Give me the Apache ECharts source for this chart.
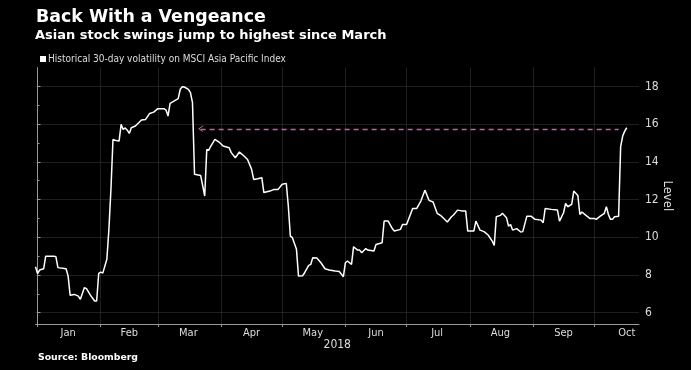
<!DOCTYPE html>
<html>
<head>
<meta charset="utf-8">
<script src="https://cdn.jsdelivr.net/npm/echarts@6/dist/echarts.min.js"></script>
<style>
html,body{margin:0;padding:0;background:#000;}
#chart{width:691px;height:370px;}
</style>
</head>
<body>
<div id="chart"></div>
<script>
// Day offsets from 2018-01-01 (calendar days)
const days = [-1,0,1,3,4,8,9,10,14,15,16,18,20,21,23,24,26,28,29,30,31,32,34,35,36,37,38,40,41,42,43,44,45,46,48,51,53,55,57,59,62,63,64,65,69,70,71,72,74,75,76,77,80,82,83,84,85,87,89,91,94,95,97,99,101,103,105,106,108,110,111,114,116,118,120,122,123,124,125,127,128,130,131,133,134,135,137,139,141,143,146,148,150,151,152,154,155,157,158,159,161,162,165,166,169,170,172,174,175,178,179,181,184,186,188,190,192,194,196,198,201,203,204,206,208,210,211,214,215,217,219,221,223,224,225,227,228,230,231,232,233,235,237,238,240,242,244,247,248,249,252,255,256,258,259,260,262,263,265,266,267,269,271,273,274,276,278,279,280,281,282,283,285,286,287,288,289];
// Historical 30-day volatility level
const levels = [8.44,8.07,8.26,8.33,9.0,9.0,8.97,8.39,8.33,7.94,6.92,6.97,6.88,6.71,7.33,7.28,6.92,6.62,6.62,8.08,8.15,8.1,8.83,10.42,12.54,15.19,15.15,15.1,15.99,15.72,15.8,15.68,15.51,15.81,15.9,16.22,16.25,16.57,16.64,16.82,16.82,16.75,16.43,17.1,17.35,17.85,17.99,17.97,17.85,17.67,17.14,13.34,13.28,12.19,14.66,14.62,14.84,15.19,15.05,14.84,14.75,14.49,14.22,14.52,14.34,14.13,13.6,13.07,13.1,13.16,12.37,12.45,12.54,12.54,12.81,12.86,11.66,10.06,9.98,9.36,7.94,7.96,8.12,8.51,8.56,8.92,8.9,8.65,8.33,8.26,8.21,8.18,7.91,8.65,8.74,8.56,9.5,9.32,9.32,9.18,9.4,9.32,9.27,9.62,9.71,10.86,10.86,10.46,10.33,10.42,10.68,10.68,11.53,11.53,11.92,12.5,11.96,11.87,11.27,11.13,10.81,11.09,11.18,11.44,11.4,11.4,10.33,10.33,10.86,10.38,10.3,10.12,9.8,9.57,11.09,11.16,11.27,11.04,10.59,10.68,10.38,10.46,10.28,10.3,11.12,11.12,10.95,10.91,10.77,11.53,11.48,11.45,10.86,11.3,11.8,11.62,11.75,12.45,12.22,11.21,11.34,11.16,10.99,11.0,10.95,11.12,11.27,11.62,11.21,10.95,10.95,11.09,11.12,14.81,15.37,15.63,15.81];

const monthLabels = ['Jan','Feb','Mar','Apr','May','Jun','Jul','Aug','Sep','Oct'];
const monthStartDates = ['2018-01-01','2018-02-01','2018-03-01','2018-04-01','2018-05-01','2018-06-01','2018-07-01','2018-08-01','2018-09-01','2018-10-01'];
const monthLabelDates = ['2018-01-16','2018-02-15','2018-03-16','2018-04-16','2018-05-16','2018-06-16','2018-07-16','2018-08-16','2018-09-16','2018-10-17'];
const yLabelValues = [6,8,10,12,14,16,18];
const axisStart = '2017-12-31';
const axisEnd = '2018-10-23';
// Dashed reference line: back to the March level
const refLevel = 15.75;
const refStart = '2018-03-22';
const refEnd = '2018-10-13';

const DAY = 86400000;
const ORIGIN = Date.UTC(2018, 0, 1);
function toDay(s){ const p = s.split('-').map(Number); return Math.round((Date.UTC(p[0], p[1]-1, p[2]) - ORIGIN) / DAY); }

const seriesData = days.map((d,i) => [d, levels[i]]);
const labelDays = monthLabelDates.map(toDay);
const axisFont = "'DejaVu Sans Condensed','Liberation Sans Narrow','Roboto Condensed',Roboto,sans-serif";
const headFont = "'DejaVu Sans','Verdana',sans-serif";
const legendName = 'Historical 30-day volatility on MSCI Asia Pacific Index';

const chart = echarts.init(document.getElementById('chart'), null, {renderer:'canvas'});
chart.setOption({
  backgroundColor: '#000',
  animation: false,
  title: [
    {text: 'Back With a Vengeance', left: 31, top: 4,
     textStyle: {color:'#fff', fontSize: 17.4, fontWeight:'bold', fontFamily: headFont}},
    {text: 'Asian stock swings jump to highest since March', left: 30, top: 24.5,
     textStyle: {color:'#fff', fontSize: 13, fontWeight:'bold', fontFamily: headFont}},
    {text: 'Source: Bloomberg', left: 33, top: 348,
     textStyle: {color:'#fff', fontSize: 9.3, fontWeight:'bold', fontFamily: headFont}}
  ],
  legend: {
    data: [legendName], left: 35, top: 49, icon: 'rect', itemWidth: 6, itemHeight: 6, itemGap: 2,
    selectedMode: false,
    textStyle: {color:'#ddd', fontSize: 10, fontFamily: axisFont, padding:[0,0,0,-3]}
  },
  grid: {left: 35.5, right: 52, top: 67.6, bottom: 46},
  xAxis: {
    type: 'value',
    min: toDay(axisStart), max: toDay(axisEnd),
    name: '2018', nameLocation: 'middle', nameGap: 15, nameMoveOverlap: false,
    nameTextStyle: {color:'#ddd', fontSize: 12, fontFamily: axisFont},
    axisLine: {show: true, lineStyle: {color:'#999', width: 1}},
    axisTick: {show: true, length: 3, customValues: monthStartDates.map(toDay), lineStyle:{color:'#999'}},
    axisLabel: {customValues: labelDays, color:'#ddd', fontSize: 11, margin: 4, fontFamily: axisFont,
      hideOverlap: false, showMinLabel: true, showMaxLabel: true,
      formatter: v => { const i = labelDays.indexOf(v); return i >= 0 ? monthLabels[i] : ''; }},
    splitLine: {show: true, lineStyle: {color:'#3c3c3c', width: 1, type: [1,1]}}
  },
  yAxis: {
    type: 'value', position: 'right', min: 5.4, max: 19, minInterval: 2, maxInterval: 2,
    name: 'Level', nameLocation: 'middle', nameRotate: -90, nameGap: 22, nameMoveOverlap: false,
    nameTextStyle: {color:'#ddd', fontSize: 13, fontFamily: axisFont},
    axisLine: {show: true, lineStyle: {color:'#999', width: 1}},
    axisTick: {show: true, length: 3, customValues: yLabelValues, lineStyle:{color:'#999'}},
    minorTick: {show: true, splitNumber: 2, length: 2, lineStyle:{color:'#999'}},
    axisLabel: {customValues: yLabelValues, color:'#ddd', fontSize: 12, margin: 6, fontFamily: axisFont,
      formatter: v => (yLabelValues.indexOf(v) >= 0 ? String(v) : '')},
    splitLine: {show: true, lineStyle: {color:'#3c3c3c', width: 1, type: [1,1]}}
  },
  series: [{
    name: legendName,
    type: 'line',
    data: seriesData,
    showSymbol: false,
    symbol: 'none',
    itemStyle: {color:'#fff'},
    lineStyle: {color:'#fff', width: 1.5},
    silent: true,
    markLine: {
      silent: true,
      animation: false,
      label: {show: false},
      lineStyle: {color:'#b8689a', width: 1.3, type: [5,4]},
      data: [[
        {coord: [toDay(refStart), refLevel], symbol: 'path://M0,10 L5,0 L10,10 L8.6,10 L5,3 L1.4,10 Z', symbolSize: [7,5]},
        {coord: [toDay(refEnd), refLevel], symbol: 'none'}
      ]]
    }
  }]
});
</script>
</body>
</html>
